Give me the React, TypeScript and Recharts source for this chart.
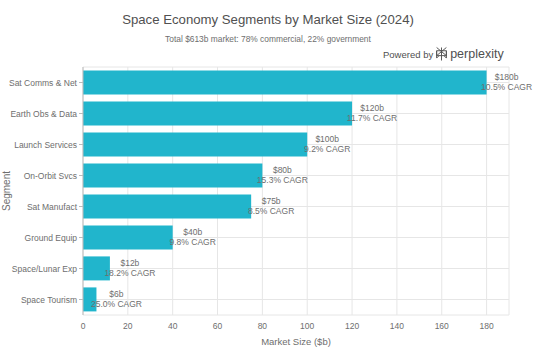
import { BarChart, Bar, XAxis, YAxis, CartesianGrid, LabelList } from 'recharts';

const segments = [
  'Sat Comms & Net',
  'Earth Obs & Data',
  'Launch Services',
  'On-Orbit Svcs',
  'Sat Manufact',
  'Ground Equip',
  'Space/Lunar Exp',
  'Space Tourism',
];
const marketSize = [180, 120, 100, 80, 75, 40, 12, 6];
const cagr = ['10.5%', '11.7%', '9.2%', '15.3%', '8.5%', '9.8%', '18.2%', '25.0%'];
const xTicks = [0, 20, 40, 60, 80, 100, 120, 140, 160, 180];

const data = segments.map((name, i) => ({ name, value: marketSize[i], cagr: cagr[i] }));

const font = '"Liberation Sans", Arial, Helvetica, sans-serif';
const muted = '#6e6e6e';

function BarLabel(props: any) {
  const { x, y, width, height, index } = props;
  const cx = x + width + 20;
  const cy = y + height / 2;
  const d = data[index];
  return (
    <g fontFamily={font} fontSize={8.5} fill={muted} textAnchor="middle">
      <text x={cx} y={cy - 2.5}>{`$${d.value}b`}</text>
      <text x={cx} y={cy + 7.5}>{`${d.cagr} CAGR`}</text>
    </g>
  );
}

function SegmentTick(props: any) {
  const { x, y, payload } = props;
  return (
    <text x={x} y={y} dy={3} textAnchor="end" fontFamily={font} fontSize={8.5} fill={muted}>
      {payload.value}
    </text>
  );
}

function SegmentTitle(props: any) {
  const { viewBox } = props;
  const cy = viewBox.y + viewBox.height / 2;
  return (
    <text x={10} y={cy} transform={`rotate(-90 10 ${cy})`} textAnchor="middle" fontFamily={font} fontSize={10} fill={muted}>
      Segment
    </text>
  );
}

function PerplexityMark() {
  return (
    <svg width="13" height="16" viewBox="0 0 16 18" style={{ display: 'block' }}>
      <g fill="none" stroke="#555" strokeWidth="1.2">
        <path d="M8 1v16M2 1l6 5 6-5M2 5h12v6H2zM2 11l6-5 6 5M2 5v9l3-3M14 5v9l-3-3" />
      </g>
    </svg>
  );
}

export default function App() {
  return (
    <div style={{ position: 'relative', width: 536, height: 357, background: '#fff', fontFamily: font }}>
      <style>{'body{margin:0}'}</style>
      <div style={{ position: 'absolute', top: 12, left: 0, width: 536, textAlign: 'center', fontSize: 13.2, color: '#505050' }}>
        Space Economy Segments by Market Size (2024)
      </div>
      <div style={{ position: 'absolute', top: 34, left: 0, width: 536, textAlign: 'center', fontSize: 8.4, color: muted }}>
        Total $613b market: 78% commercial, 22% government
      </div>
      <div style={{ position: 'absolute', top: 46, left: 383, fontSize: 9.5, color: '#505050', display: 'flex', alignItems: 'center', gap: 2 }}>
        <span>Powered by</span>
        <PerplexityMark />
        <span style={{ fontSize: 12.5 }}>perplexity</span>
      </div>
      <BarChart
        width={536}
        height={357}
        data={data}
        layout="vertical"
        margin={{ top: 67, right: 27, bottom: 12, left: 0 }}
        barCategoryGap="11%"
      >
        <CartesianGrid stroke="#e6e6e6" />
        <XAxis
          type="number"
          domain={[0, 190]}
          ticks={xTicks}
          height={30}
          axisLine={false}
          tickLine={false}
          tick={{ fill: muted, fontSize: 8.5, fontFamily: font }}
          label={{ value: 'Market Size ($b)', position: 'insideBottom', offset: 0, fill: muted, fontSize: 9.5, fontFamily: font }}
        />
        <YAxis
          type="category"
          dataKey="name"
          width={83}
          axisLine={{ stroke: '#bbb' }}
          tickLine={{ stroke: '#bbb' }}
          tickSize={4}
          tick={<SegmentTick />}
          label={<SegmentTitle />}
        />
        <Bar dataKey="value" fill="#21B5CC" isAnimationActive={false}>
          <LabelList dataKey="value" content={<BarLabel />} />
        </Bar>
      </BarChart>
    </div>
  );
}
